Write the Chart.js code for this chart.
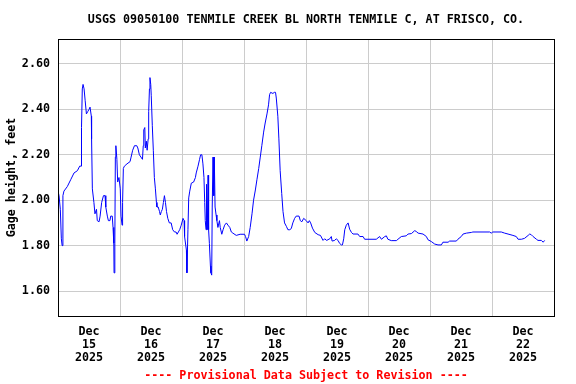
<!DOCTYPE html>
<html>
<head>
<meta charset="utf-8">
<script src="https://cdn.jsdelivr.net/npm/chart.js@4/dist/chart.umd.min.js"></script>
<style>
  body { margin: 0; background: #fff; }
  canvas { display: block; }
</style>
</head>
<body>
<canvas id="chart" width="576" height="384"></canvas>
<script>
// hours since Dec 15 00:00 and gage height (feet)
const hours = [
  0.0, 0.4, 0.9, 1.3, 1.6, 1.9, 2.3, 3.6, 4.9, 6.2, 7.5, 8.4, 9.0, 9.1, 9.4, 9.7, 10.1, 10.5, 11.0, 11.5,
  12.0, 12.4, 12.9, 13.0, 13.3, 13.9, 14.3, 14.9, 15.2, 15.9, 16.3, 16.9, 17.6, 18.2, 18.5, 19.1, 19.5, 20.1, 20.4, 21.0,
  21.3, 21.6, 21.7, 22.0, 22.2, 22.4, 22.8, 23.1, 23.6, 24.1, 24.4, 24.8, 25.0, 25.3, 25.7, 26.7, 27.9, 28.3, 28.9, 29.6,
  30.5, 30.9, 31.5, 32.1, 32.7, 33.0, 33.2, 33.6, 33.8, 34.2, 34.5, 34.9, 35.1, 35.4, 35.6, 35.9, 36.1, 36.5, 36.9, 37.3,
  37.7, 38.1, 38.3, 38.8, 39.3, 39.6, 40.0, 40.4, 40.8, 41.2, 41.6, 42.0, 42.5, 43.1, 43.8, 44.4, 45.1, 45.7, 46.1, 46.6,
  47.1, 47.7, 48.4, 48.8, 49.0, 49.7, 49.9, 50.3, 50.6, 51.0, 51.6, 52.5, 53.2, 53.5, 54.2, 54.8, 55.2, 55.7, 56.1, 56.5,
  56.8, 57.0, 57.3, 57.5, 57.8, 58.1, 58.3, 58.6, 59.0, 59.2, 59.5, 59.7, 60.0, 60.3, 60.5, 60.8, 61.2, 61.5, 61.9, 62.5,
  62.8, 63.4, 63.9, 64.5, 65.2, 65.8, 66.5, 67.1, 67.7, 69.0, 70.5, 72.2, 72.6, 73.1, 73.8, 74.4, 75.1, 75.7, 76.4, 77.0,
  77.7, 78.3, 78.9, 79.6, 80.2, 80.9, 81.5, 81.9, 82.3, 83.2, 83.7, 84.2, 84.5, 85.1, 85.5, 86.0, 86.6, 87.1, 87.7, 88.4,
  89.0, 89.7, 90.3, 90.9, 91.6, 92.2, 93.3, 93.8, 94.4, 95.1, 96.1, 96.8, 97.3, 97.8, 98.5, 99.4, 100.7, 101.6, 102.6, 103.2,
  104.0, 105.2, 105.8, 106.1, 107.1, 107.7, 108.4, 109.0, 109.7, 110.1, 110.6, 111.0, 111.6, 112.3, 112.9, 113.6, 114.2, 116.1, 116.8, 118.1,
  118.7, 123.2, 124.5, 125.2, 126.5, 127.1, 127.7, 129.0, 131.0, 131.6, 132.9, 134.8, 135.5, 136.8, 138.1, 138.7, 139.4, 141.3, 142.6, 143.2,
  144.5, 145.8, 147.1, 148.4, 149.0, 151.0, 151.6, 154.2, 154.8, 156.1, 156.8, 158.1, 160.0, 160.6, 167.1, 167.7, 168.3, 171.6, 172.9, 174.2,
  176.1, 177.4, 178.1, 179.4, 180.6, 182.0, 182.6, 183.2, 183.9, 185.2, 185.8, 187.1, 187.8, 188.4
];
const gage = [
  2.04, 2.02, 1.96, 1.83, 1.80, 2.02, 2.04, 2.06, 2.09, 2.12, 2.13, 2.15, 2.15, 2.32, 2.49, 2.51, 2.49, 2.44, 2.38, 2.39,
  2.40, 2.41, 2.37, 2.27, 2.05, 1.99, 1.94, 1.96, 1.91, 1.905, 1.93, 1.99, 2.02, 2.02, 1.97, 1.93, 1.91, 1.91, 1.93, 1.93,
  1.88, 1.81, 1.68, 1.81, 2.19, 2.24, 2.18, 2.08, 2.10, 2.05, 1.93, 1.89, 1.99, 2.14, 2.15, 2.16, 2.17, 2.19, 2.22, 2.24,
  2.24, 2.23, 2.20, 2.19, 2.18, 2.24, 2.31, 2.32, 2.23, 2.26, 2.22, 2.27, 2.39, 2.49, 2.54, 2.51, 2.46, 2.33, 2.22, 2.10,
  2.05, 1.99, 1.97, 1.97, 1.95, 1.935, 1.95, 1.96, 1.99, 2.02, 1.99, 1.95, 1.92, 1.90, 1.90, 1.87, 1.86, 1.86, 1.85, 1.86,
  1.87, 1.89, 1.92, 1.91, 1.84, 1.78, 1.68, 1.87, 2.01, 2.04, 2.075, 2.08, 2.10, 2.12, 2.15, 2.18, 2.20, 2.20, 2.16, 2.10,
  1.99, 1.91, 1.87, 2.07, 1.87, 2.11, 1.87, 1.81, 1.71, 1.68, 1.67, 1.97, 2.19, 2.02, 2.19, 1.97, 1.935, 1.91, 1.88, 1.91,
  1.88, 1.85, 1.87, 1.89, 1.90, 1.89, 1.88, 1.86, 1.855, 1.845, 1.85, 1.85, 1.84, 1.82, 1.84, 1.88, 1.94, 2.00, 2.045, 2.09,
  2.14, 2.19, 2.24, 2.30, 2.34, 2.38, 2.42, 2.465, 2.475, 2.47, 2.475, 2.475, 2.45, 2.37, 2.27, 2.13, 2.03, 1.95, 1.90, 1.885,
  1.87, 1.87, 1.875, 1.90, 1.92, 1.93, 1.93, 1.91, 1.905, 1.92, 1.91, 1.90, 1.91, 1.90, 1.877, 1.858, 1.848, 1.845, 1.823, 1.83,
  1.823, 1.83, 1.84, 1.82, 1.823, 1.83, 1.823, 1.81, 1.803, 1.803, 1.83, 1.87, 1.89, 1.90, 1.872, 1.858, 1.851, 1.851, 1.84, 1.84,
  1.828, 1.828, 1.84, 1.828, 1.84, 1.843, 1.828, 1.822, 1.822, 1.828, 1.84, 1.843, 1.851, 1.853, 1.866, 1.862, 1.855, 1.851, 1.84, 1.826,
  1.818, 1.807, 1.803, 1.803, 1.815, 1.815, 1.82, 1.82, 1.828, 1.84, 1.851, 1.855, 1.858, 1.86, 1.86, 1.855, 1.86, 1.86, 1.855, 1.851,
  1.845, 1.84, 1.828, 1.828, 1.832, 1.845, 1.851, 1.848, 1.84, 1.828, 1.823, 1.823, 1.815, 1.823
];

const dayLabels = ['15', '16', '17', '18', '19', '20', '21', '22'];
const monthLabel = 'Dec';
const yearLabel = '2025';
const yTicks = [1.60, 1.80, 2.00, 2.20, 2.40, 2.60];

const titleText = 'USGS 09050100 TENMILE CREEK BL NORTH TENMILE C, AT FRISCO, CO.';
const yTitle = 'Gage height, feet';
const footText = '---- Provisional Data Subject to Revision ----';

const MONO = '"DejaVu Sans Mono", "Liberation Mono", monospace';
const FONT = 'bold 11.7px ' + MONO;

const frame = {
  id: 'frame',
  afterDraw(chart) {
    const ctx = chart.ctx;
    const a = chart.chartArea;
    ctx.save();
    ctx.strokeStyle = '#000';
    ctx.lineWidth = 1;
    ctx.strokeRect(a.left + 0.5, a.top + 0.5, a.right - a.left, a.bottom - a.top);

    ctx.font = FONT;
    ctx.textAlign = 'center';
    ctx.textBaseline = 'middle';
    const cx = (a.left + a.right) / 2;
    ctx.fillStyle = '#000';
    ctx.fillText(titleText, cx, 20);
    ctx.fillStyle = '#ff0000';
    ctx.fillText(footText, cx, 376);

    ctx.fillStyle = '#000';
    ctx.translate(12, (a.top + a.bottom) / 2);
    ctx.rotate(-Math.PI / 2);
    ctx.fillText(yTitle, 0, 0);
    ctx.restore();
  }
};

new Chart(document.getElementById('chart'), {
  type: 'line',
  data: {
    datasets: [{
      data: hours.map((h, i) => ({ x: h, y: gage[i] })),
      borderColor: '#0000ff',
      borderWidth: 1,
      pointRadius: 0,
      tension: 0,
      fill: false
    }]
  },
  options: {
    responsive: false,
    animation: false,
    events: [],
    layout: { padding: { top: 39, right: 22, left: 0, bottom: 0 } },
    plugins: { legend: { display: false }, tooltip: { enabled: false } },
    scales: {
      x: {
        type: 'linear',
        min: 0,
        max: 192,
        afterFit(s) { s.height = 68; },
        afterBuildTicks(s) {
          const t = [];
          for (let v = 0; v <= 192; v += 12) t.push({ value: v });
          s.ticks = t;
        },
        border: { display: false },
        grid: {
          drawTicks: false,
          lineWidth: 1,
          color: c => (c.tick && c.tick.value % 24 === 0) ? '#cccccc' : 'rgba(0,0,0,0)'
        },
        ticks: {
          autoSkip: false,
          maxRotation: 0,
          padding: 9,
          color: '#000',
          font: { family: MONO, size: 11.7, weight: 'bold', lineHeight: 1.11 },
          callback: v => {
            if (v % 24 !== 12) return '';
            return [monthLabel, dayLabels[Math.floor(v / 24)], yearLabel];
          }
        }
      },
      y: {
        min: 1.49,
        max: 2.71,
        afterFit(s) { s.width = 58; },
        afterBuildTicks(s) { s.ticks = yTicks.map(v => ({ value: v })); },
        border: { display: false },
        grid: { drawTicks: false, color: '#cccccc', lineWidth: 1 },
        ticks: {
          padding: 8,
          color: '#000',
          font: { family: MONO, size: 11.7, weight: 'bold' },
          callback: v => v.toFixed(2)
        }
      }
    }
  },
  plugins: [frame]
});
</script>
</body>
</html>
